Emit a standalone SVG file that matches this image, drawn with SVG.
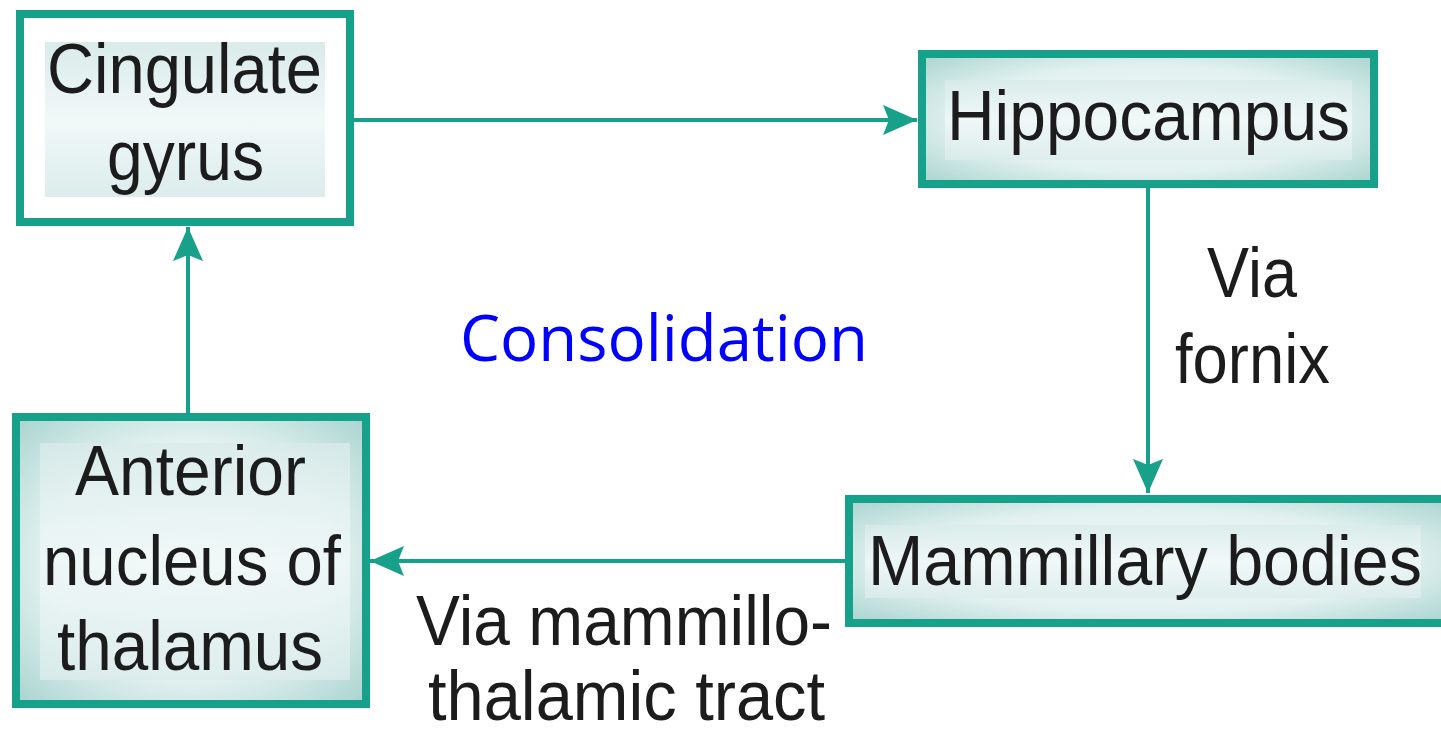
<svg xmlns="http://www.w3.org/2000/svg" width="1441" height="734" viewBox="0 0 1441 734">
<defs>
<style>
.box{stroke:#17a08a;stroke-width:8}
.filled{fill:url(#boxGrad)}
.txt{font-family:"Liberation Sans",Arial,sans-serif;font-size:70px;fill:#1c1c1c}
.conn{stroke:#17a08a;stroke-width:4;fill:none;marker-end:url(#ah)}
.tbg{fill:url(#tbgGrad)}
</style>
<radialGradient id="boxGrad" cx="0.5" cy="0.5" r="0.75">
<stop offset="0" stop-color="#f2f9f9"/>
<stop offset="0.55" stop-color="#e2f1f0"/>
<stop offset="1" stop-color="#9fcfca"/>
</radialGradient>
<linearGradient id="tbgGrad" x1="0" y1="0" x2="0" y2="1">
<stop offset="0" stop-color="#d9ebea"/>
<stop offset="0.5" stop-color="#f1f8f8"/>
<stop offset="1" stop-color="#dcecec"/>
</linearGradient>
<marker id="ah" markerUnits="userSpaceOnUse" markerWidth="40" markerHeight="32" refX="34" refY="15" orient="auto">
<path d="M0,0 L34,15 L0,30 L6,15 z" fill="#17a08a"/>
</marker>
</defs>
<rect width="1441" height="734" fill="#ffffff"/>
<g id="connectors">
<path class="conn" d="M353,120 L917,120"/>
<path class="conn" d="M1148,188 L1148,493"/>
<path class="conn" d="M845,561 L370,561"/>
<path class="conn" d="M188,413 L188,227"/>
</g>
<g id="cingulate">
<rect class="box" x="20" y="14" width="330" height="208" fill="#ffffff"/>
<rect class="tbg" x="45" y="42" width="280" height="155"/>
<text class="txt" x="47" y="93" textLength="275" lengthAdjust="spacingAndGlyphs">Cingulate</text>
<text class="txt" x="107" y="180" textLength="157" lengthAdjust="spacingAndGlyphs">gyrus</text>
</g>
<g id="hippocampus">
<rect class="box filled" x="922" y="54" width="452" height="130"/>
<rect class="tbg" x="945" y="80" width="407" height="80" opacity="0.8"/>
<text class="txt" x="947" y="140" textLength="403" lengthAdjust="spacingAndGlyphs">Hippocampus</text>
</g>
<g id="mammillary">
<rect class="box filled" x="849" y="499" width="600" height="124"/>
<rect class="tbg" x="865" y="525" width="556" height="73" opacity="0.8"/>
<text class="txt" x="868" y="585" textLength="554" lengthAdjust="spacingAndGlyphs">Mammillary bodies</text>
</g>
<g id="anterior">
<rect class="box filled" x="16" y="417" width="350" height="287"/>
<rect class="tbg" x="40" y="443" width="310" height="237" opacity="0.8"/>
<text class="txt" x="75" y="495" textLength="231" lengthAdjust="spacingAndGlyphs">Anterior</text>
<text class="txt" x="43" y="585" textLength="298" lengthAdjust="spacingAndGlyphs">nucleus of</text>
<text class="txt" x="57" y="670" textLength="266" lengthAdjust="spacingAndGlyphs">thalamus</text>
</g>
<g id="labels">
<text class="txt" x="1207" y="297" textLength="90" lengthAdjust="spacingAndGlyphs">Via</text>
<text class="txt" x="1175" y="383" textLength="155" lengthAdjust="spacingAndGlyphs">fornix</text>
<text class="txt" x="416" y="645" textLength="416" lengthAdjust="spacingAndGlyphs">Via mammillo-</text>
<text class="txt" x="428" y="720" textLength="397" lengthAdjust="spacingAndGlyphs">thalamic tract</text>
<text x="460" y="361" font-family="'Open Sans','Noto Sans',sans-serif" font-size="64" fill="#0000ff" textLength="408" lengthAdjust="spacingAndGlyphs">Consolidation</text>
</g>
</svg>
